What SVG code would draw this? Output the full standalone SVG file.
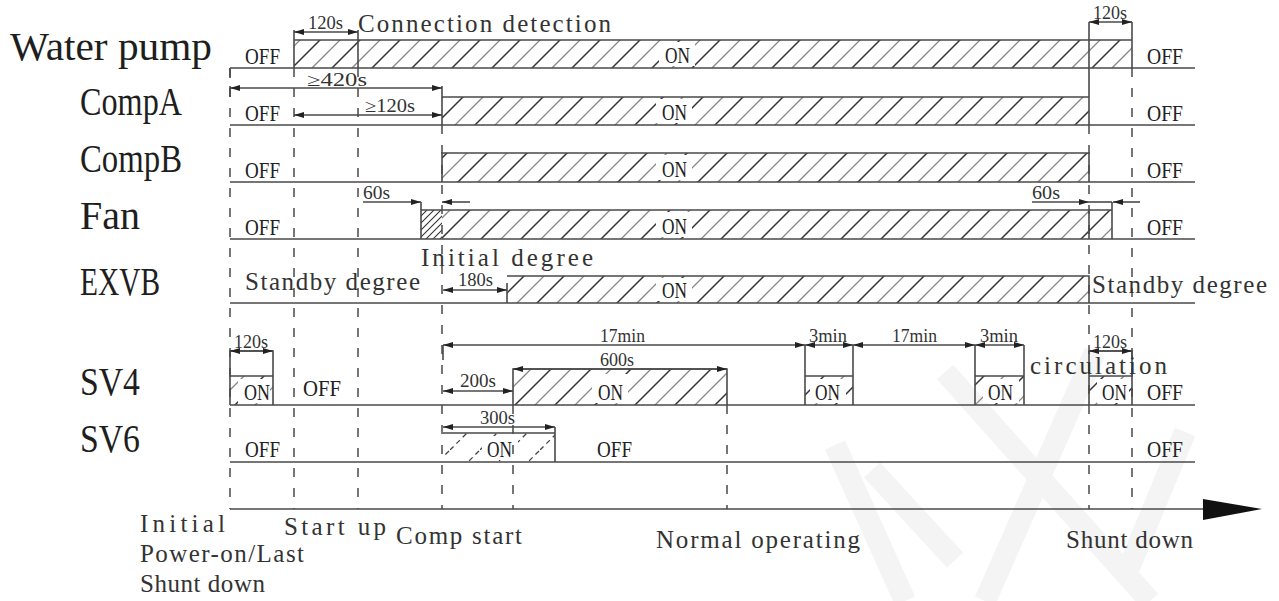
<svg xmlns="http://www.w3.org/2000/svg" width="1279" height="601" viewBox="0 0 1279 601">
<style>
.bg{fill:#fff}
.ln{stroke:#4a4a4a;stroke-width:1.6;fill:none}
.dl{stroke:#4a4a4a;stroke-width:1.5;fill:none;stroke-dasharray:9 11}
.L{font-family:"Liberation Serif",serif;font-size:41px;fill:#1e1e1e}
.s{font-family:"Liberation Serif",serif;font-size:24px;fill:#222}
.d{font-family:"Liberation Serif",serif;font-size:18px;fill:#333}
.m{font-family:"Liberation Serif",serif;font-size:25px;fill:#333}
.wm{stroke:#f4f4f4;stroke-width:22;fill:none;stroke-linecap:butt}
.onbg{fill:#fff}
</style>
<defs>
<pattern id="h" patternUnits="userSpaceOnUse" width="40" height="40">
<path d="M-10,10 L10,-10 M0,40 L40,0 M30,50 L50,30" stroke="#333" stroke-width="1.5"/>
<path d="M-10,30 L30,-10 M10,50 L50,10" stroke="#888" stroke-width="1.3"/>
</pattern>
<pattern id="hd" patternUnits="userSpaceOnUse" width="7" height="7">
<path d="M-2,2 L2,-2 M0,7 L7,0 M5,9 L9,5" stroke="#333" stroke-width="1.1"/>
</pattern>
<pattern id="hx" patternUnits="userSpaceOnUse" width="30" height="30">
<path d="M0,30 L30,0 M-5,5 L5,-5 M25,35 L35,25" stroke="#444" stroke-width="1.3" stroke-dasharray="5 4"/>
</pattern>
<marker id="ar" viewBox="0 0 10 6" refX="10" refY="3" markerWidth="12" markerHeight="6" orient="auto-start-reverse" markerUnits="userSpaceOnUse">
<path d="M0,0 L10,3 L0,6 z" fill="#222"/>
</marker>
</defs>
<rect class="bg" x="0" y="0" width="1279" height="601"/>

<g id="watermark">
<path class="wm" d="M835,445 L905,601"/>
<path class="wm" d="M872,470 L955,560"/>
<path class="wm" d="M945,372 L1150,601"/>
<path class="wm" d="M1095,352 L985,601"/>
<path class="wm" d="M1185,432 L1128,570"/>
</g>

<g id="labels">
<text class="L" x="10" y="60" textLength="202" lengthAdjust="spacingAndGlyphs">Water pump</text>
<text class="L" x="80" y="115" textLength="102" lengthAdjust="spacingAndGlyphs">CompA</text>
<text class="L" x="80" y="172" textLength="102" lengthAdjust="spacingAndGlyphs">CompB</text>
<text class="L" x="80" y="229" textLength="60" lengthAdjust="spacingAndGlyphs">Fan</text>
<text class="L" x="80" y="295" textLength="80" lengthAdjust="spacingAndGlyphs">EXVB</text>
<text class="L" x="80" y="395" textLength="60" lengthAdjust="spacingAndGlyphs">SV4</text>
<text class="L" x="80" y="452" textLength="60" lengthAdjust="spacingAndGlyphs">SV6</text>
</g>

<g id="bars">
<rect x="294" y="40" width="838" height="28" fill="url(#h)"/>
<rect x="442" y="97" width="647" height="28" fill="url(#h)"/>
<rect x="442" y="153" width="647" height="29" fill="url(#h)"/>
<rect x="442" y="210" width="647" height="29" fill="url(#h)"/>
<rect x="421" y="210" width="21" height="29" fill="url(#hd)"/>
<rect x="1089" y="210" width="23" height="29" fill="url(#h)"/>
<rect x="507" y="276" width="582" height="27" fill="url(#h)"/>
<rect x="230" y="376" width="43" height="29" fill="url(#h)"/>
<rect x="513" y="369" width="214" height="36" fill="url(#h)"/>
<rect x="805" y="376" width="48" height="29" fill="url(#h)"/>
<rect x="975" y="376" width="49" height="29" fill="url(#h)"/>
<rect x="1089" y="376" width="43" height="29" fill="url(#h)"/>
<rect x="443" y="433" width="112" height="29" fill="url(#hx)"/>
<rect class="onbg" x="659" y="42" width="36" height="24"/>
<rect class="onbg" x="656" y="99" width="36" height="24"/>
<rect class="onbg" x="656" y="155" width="36" height="25"/>
<rect class="onbg" x="656" y="212" width="36" height="25"/>
<rect class="onbg" x="656" y="278" width="36" height="23"/>
<rect class="onbg" x="592" y="374" width="36" height="29"/>
<rect class="onbg" x="238" y="379" width="32" height="24"/>
<rect class="onbg" x="810" y="379" width="36" height="24"/>
<rect class="onbg" x="983" y="379" width="36" height="24"/>
<rect class="onbg" x="1097" y="379" width="32" height="24"/>
<rect class="onbg" x="482" y="436" width="36" height="24"/>
</g>

<g id="connectors">
<path class="dl" d="M230,68 V509 M294,68 V509 M358,68 V509 M442,125 V509 M513,405 V509 M727,405 V509 M1089,125 V509 M1132,68 V509"/>
<path class="ln" d="M230,68 H1195 M230,125 H1195 M230,182 H1195 M230,239 H1195 M230,303 H1195 M230,405 H1195 M230,462 H1195"/>
<path class="ln" d="M230,68 V78 M230,86 V97"/>
<path class="ln" d="M294,68 V30 M294,40 H1132 M358,30 V68 M1089,22 V125 M1132,22 V68"/>
<path class="ln" d="M442,86 V125 M442,97 H1089"/>
<path class="ln" d="M442,182 V153 H1089 V182"/>
<path class="ln" d="M421,202 V239 M421,210 H1089 V239 M1089,210 H1112 M1112,202 V239"/>
<path class="ln" d="M507,283 V303 M507,276 H1089 V303"/>
<path class="ln" d="M230,405 V351 H273 V405 M230,376 H273"/>
<path class="ln" d="M513,405 V369 H727 V405"/>
<path class="ln" d="M805,405 V345 M853,405 V345 M805,376 H853"/>
<path class="ln" d="M975,405 V345 M1024,405 V345 M975,376 H1024"/>
<path class="ln" d="M1089,405 V351 H1132 V405 M1089,376 H1132"/>
<path class="ln" d="M443,345 V360"/>
<path class="ln" d="M443,433 H555 M555,427 V462"/>
<g class="ln" stroke="#222">
<line x1="294" y1="32" x2="358" y2="32" marker-start="url(#ar)" marker-end="url(#ar)"/>
<line x1="1089" y1="22" x2="1132" y2="22" marker-start="url(#ar)" marker-end="url(#ar)"/>
<line x1="230" y1="88" x2="442" y2="88" marker-start="url(#ar)" marker-end="url(#ar)"/>
<line x1="294" y1="115" x2="442" y2="115" marker-start="url(#ar)" marker-end="url(#ar)"/>
<line x1="363" y1="202" x2="421" y2="202" marker-end="url(#ar)"/>
<line x1="470" y1="202" x2="442" y2="202" marker-end="url(#ar)"/>
<line x1="1032" y1="202" x2="1089" y2="202" marker-end="url(#ar)"/>
<line x1="1089" y1="202" x2="1112" y2="202"/>
<line x1="1140" y1="202" x2="1113" y2="202" marker-end="url(#ar)"/>
<line x1="443" y1="290" x2="507" y2="290" marker-start="url(#ar)" marker-end="url(#ar)"/>
<line x1="230" y1="351" x2="273" y2="351" marker-start="url(#ar)" marker-end="url(#ar)"/>
<line x1="443" y1="345" x2="805" y2="345" marker-start="url(#ar)" marker-end="url(#ar)"/>
<line x1="805" y1="345" x2="853" y2="345" marker-start="url(#ar)" marker-end="url(#ar)"/>
<line x1="853" y1="345" x2="975" y2="345" marker-start="url(#ar)" marker-end="url(#ar)"/>
<line x1="975" y1="345" x2="1024" y2="345" marker-start="url(#ar)" marker-end="url(#ar)"/>
<line x1="1089" y1="351" x2="1132" y2="351" marker-start="url(#ar)" marker-end="url(#ar)"/>
<line x1="513" y1="369" x2="727" y2="369" marker-start="url(#ar)" marker-end="url(#ar)"/>
<line x1="443" y1="391" x2="513" y2="391" marker-start="url(#ar)" marker-end="url(#ar)"/>
<line x1="443" y1="427" x2="555" y2="427" marker-start="url(#ar)" marker-end="url(#ar)"/>
</g>
<path class="ln" d="M230,509 H1210"/>
<polygon points="1203,499 1262,509 1203,520" fill="#111"/>
</g>

<g id="states">
<text class="s" x="245" y="64" textLength="35" lengthAdjust="spacingAndGlyphs">OFF</text>
<text class="s" x="1147" y="64" textLength="36" lengthAdjust="spacingAndGlyphs">OFF</text>
<text class="s" x="665" y="63" textLength="25" lengthAdjust="spacingAndGlyphs">ON</text>
<text class="s" x="245" y="121" textLength="35" lengthAdjust="spacingAndGlyphs">OFF</text>
<text class="s" x="1147" y="121" textLength="36" lengthAdjust="spacingAndGlyphs">OFF</text>
<text class="s" x="662" y="120" textLength="25" lengthAdjust="spacingAndGlyphs">ON</text>
<text class="s" x="245" y="178" textLength="35" lengthAdjust="spacingAndGlyphs">OFF</text>
<text class="s" x="1147" y="178" textLength="36" lengthAdjust="spacingAndGlyphs">OFF</text>
<text class="s" x="662" y="177" textLength="25" lengthAdjust="spacingAndGlyphs">ON</text>
<text class="s" x="245" y="235" textLength="35" lengthAdjust="spacingAndGlyphs">OFF</text>
<text class="s" x="1147" y="235" textLength="36" lengthAdjust="spacingAndGlyphs">OFF</text>
<text class="s" x="662" y="234" textLength="25" lengthAdjust="spacingAndGlyphs">ON</text>
<text class="s" x="662" y="298" textLength="25" lengthAdjust="spacingAndGlyphs">ON</text>
<text class="s" x="244" y="400" textLength="26" lengthAdjust="spacingAndGlyphs">ON</text>
<text class="s" x="303" y="396" textLength="38" lengthAdjust="spacingAndGlyphs">OFF</text>
<text class="s" x="598" y="400" textLength="25" lengthAdjust="spacingAndGlyphs">ON</text>
<text class="s" x="815" y="400" textLength="25" lengthAdjust="spacingAndGlyphs">ON</text>
<text class="s" x="988" y="400" textLength="25" lengthAdjust="spacingAndGlyphs">ON</text>
<text class="s" x="1102" y="400" textLength="25" lengthAdjust="spacingAndGlyphs">ON</text>
<text class="s" x="1147" y="400" textLength="36" lengthAdjust="spacingAndGlyphs">OFF</text>
<text class="s" x="245" y="457" textLength="35" lengthAdjust="spacingAndGlyphs">OFF</text>
<text class="s" x="487" y="457" textLength="25" lengthAdjust="spacingAndGlyphs">ON</text>
<text class="s" x="597" y="457" textLength="35" lengthAdjust="spacingAndGlyphs">OFF</text>
<text class="s" x="1147" y="457" textLength="36" lengthAdjust="spacingAndGlyphs">OFF</text>
</g>

<g id="dimension-labels">
<text class="d" x="308" y="29" textLength="35" lengthAdjust="spacingAndGlyphs">120s</text>
<text class="m" x="358" y="32" textLength="253" lengthAdjust="spacing">Connection detection</text>
<text class="d" x="1093" y="19" textLength="34" lengthAdjust="spacingAndGlyphs">120s</text>
<text class="d" x="307" y="86" textLength="60" lengthAdjust="spacingAndGlyphs">≥420s</text>
<text class="d" x="365" y="112" textLength="50" lengthAdjust="spacingAndGlyphs">≥120s</text>
<text class="d" x="363" y="199" textLength="27" lengthAdjust="spacingAndGlyphs">60s</text>
<text class="d" x="1032" y="199" textLength="28" lengthAdjust="spacingAndGlyphs">60s</text>
<text class="m" x="421" y="266" textLength="172" lengthAdjust="spacing">Initial degree</text>
<text class="m" x="245" y="290" textLength="175" lengthAdjust="spacing">Standby degree</text>
<text class="m" x="1092" y="293" textLength="175" lengthAdjust="spacing">Standby degree</text>
<text class="d" x="458" y="286" textLength="35" lengthAdjust="spacingAndGlyphs">180s</text>
<text class="d" x="234" y="348" textLength="34" lengthAdjust="spacingAndGlyphs">120s</text>
<text class="d" x="600" y="342" textLength="45" lengthAdjust="spacingAndGlyphs">17min</text>
<text class="d" x="809" y="342" textLength="38" lengthAdjust="spacingAndGlyphs">3min</text>
<text class="d" x="892" y="342" textLength="45" lengthAdjust="spacingAndGlyphs">17min</text>
<text class="d" x="980" y="342" textLength="38" lengthAdjust="spacingAndGlyphs">3min</text>
<text class="m" x="1030" y="374" textLength="137" lengthAdjust="spacing">circulation</text>
<text class="d" x="1093" y="348" textLength="34" lengthAdjust="spacingAndGlyphs">120s</text>
<text class="d" x="600" y="366" textLength="34" lengthAdjust="spacingAndGlyphs">600s</text>
<text class="d" x="460" y="387" textLength="36" lengthAdjust="spacingAndGlyphs">200s</text>
<text class="d" x="480" y="424" textLength="35" lengthAdjust="spacingAndGlyphs">300s</text>
</g>

<g id="axis-labels">
<text class="m" x="140" y="532" textLength="85" lengthAdjust="spacing">Initial</text>
<text class="m" x="140" y="562" textLength="164" lengthAdjust="spacing">Power-on/Last</text>
<text class="m" x="140" y="592" textLength="125" lengthAdjust="spacing">Shunt down</text>
<text class="m" x="284" y="535" textLength="102" lengthAdjust="spacing">Start up</text>
<text class="m" x="396" y="544" textLength="126" lengthAdjust="spacing">Comp start</text>
<text class="m" x="656" y="548" textLength="204" lengthAdjust="spacing">Normal operating</text>
<text class="m" x="1066" y="548" textLength="127" lengthAdjust="spacing">Shunt down</text>
</g>
</svg>
